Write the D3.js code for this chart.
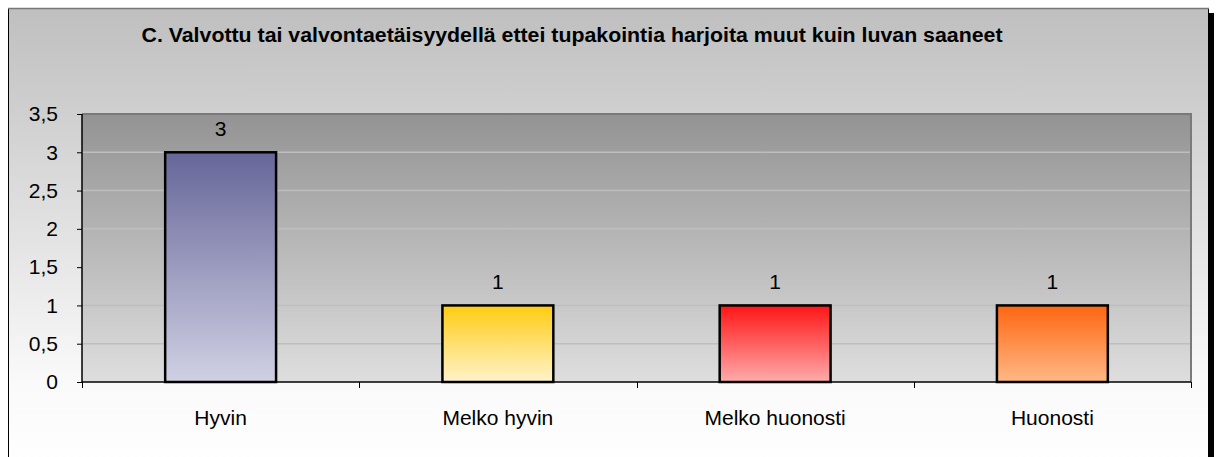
<!DOCTYPE html>
<meta charset="utf-8">
<head>
<style>
body { margin: 0; background: #fff; }
text { font-family: "Liberation Sans", Arial, sans-serif; fill: #000; }
</style>
</head>
<body>
<script src="https://cdnjs.cloudflare.com/ajax/libs/d3/7.8.5/d3.min.js"></script>
<svg id="chart" width="1218" height="457"></svg>
<script>

var title = "C. Valvottu tai valvontaetäisyydellä ettei tupakointia harjoita muut kuin luvan saaneet";
var categories = ["Hyvin", "Melko hyvin", "Melko huonosti", "Huonosti"];
var values = [3, 1, 1, 1];
var yTicks = [0, 0.5, 1, 1.5, 2, 2.5, 3, 3.5];
// top / bottom colour of each bar's gradient
var topColors = ["#666699", "#ffcc11", "#ff1515", "#ff6611"];
var bottomColors = ["#d0d0e4", "#fff3cc", "#ffabab", "#ffb886"];

var svg = d3.select("#chart"),
    margin = {top: 114, right: 27, bottom: 75, left: 82},
    width = 1191 - margin.left,
    height = 382 - margin.top;

var defs = svg.append("defs");

var outerGrad = defs.append("linearGradient").attr("id", "outerGrad")
    .attr("x1", 0).attr("y1", 0).attr("x2", 0).attr("y2", 1);
outerGrad.append("stop").attr("offset", "0%").attr("stop-color", "#bfbfbf");
outerGrad.append("stop").attr("offset", "80%").attr("stop-color", "#fafafa");
outerGrad.append("stop").attr("offset", "100%").attr("stop-color", "#ffffff");

var plotGrad = defs.append("linearGradient").attr("id", "plotGrad")
    .attr("x1", 0).attr("y1", 0).attr("x2", 0).attr("y2", 1);
plotGrad.append("stop").attr("offset", "0%").attr("stop-color", "#939393");
plotGrad.append("stop").attr("offset", "100%").attr("stop-color", "#dedede");

topColors.forEach(function(c, i) {
  var gr = defs.append("linearGradient").attr("id", "barGrad" + i)
      .attr("x1", 0).attr("y1", 0).attr("x2", 0).attr("y2", 1);
  gr.append("stop").attr("offset", "0%").attr("stop-color", c);
  gr.append("stop").attr("offset", "100%").attr("stop-color", bottomColors[i]);
});

// chart frame with shadow
svg.append("rect")
    .attr("x", 1209).attr("y", 13).attr("width", 5).attr("height", 460)
    .attr("fill", "#000");
svg.append("rect")
    .attr("x", 8.5).attr("y", 8.5).attr("width", 1200).attr("height", 470)
    .attr("fill", "url(#outerGrad)")
    .attr("stroke", "#000").attr("stroke-width", 1);
svg.append("line")
    .attr("x1", 8).attr("x2", 1209).attr("y1", 8.5).attr("y2", 8.5)
    .attr("stroke", "#777").attr("stroke-width", 1.5);

svg.append("text")
    .attr("x", 572)
    .attr("y", 42)
    .attr("text-anchor", "middle")
    .style("font-weight", "bold")
    .style("font-size", "20px")
    .attr("textLength", 861)
    .attr("lengthAdjust", "spacingAndGlyphs")
    .text(title);

var g = svg.append("g").attr("transform", "translate(" + margin.left + "," + margin.top + ")");

var x = d3.scaleBand()
    .domain(categories)
    .range([0, width])
    .paddingInner(0.6)
    .paddingOuter(0.3);

var step = width / categories.length;

var y = d3.scaleLinear()
    .domain([0, 3.5])
    .range([height, 0]);

// plot area
g.append("rect")
    .attr("width", width).attr("height", height)
    .attr("fill", "url(#plotGrad)");

g.selectAll(".grid")
    .data(yTicks.slice(1, -1))
    .enter().append("line")
      .attr("class", "grid")
      .attr("x1", 0).attr("x2", width)
      .attr("y1", function(d) { return y(d); })
      .attr("y2", function(d) { return y(d); })
      .attr("stroke", "#bebebe").attr("stroke-width", 1.5);

g.append("path")
    .attr("d", "M0," + y(3.5) + "H" + width + "V" + height)
    .attr("fill", "none")
    .attr("stroke", "#7a7a7a").attr("stroke-width", 2);

g.selectAll(".bar")
    .data(values)
    .enter().append("rect")
      .attr("class", "bar")
      .attr("x", function(d, i) { return x(categories[i]); })
      .attr("y", function(d) { return y(d); })
      .attr("width", x.bandwidth())
      .attr("height", function(d) { return height - y(d); })
      .attr("fill", function(d, i) { return "url(#barGrad" + i + ")"; })
      .attr("stroke", "#000")
      .attr("stroke-width", 2.5);

g.selectAll(".value")
    .data(values)
    .enter().append("text")
      .attr("class", "value")
      .attr("x", function(d, i) { return x(categories[i]) + x.bandwidth() / 2; })
      .attr("y", function(d) { return y(d) - 16; })
      .attr("text-anchor", "middle")
      .style("font-size", "21px")
      .text(function(d) { return d; });

// axes
var yAxis = g.append("g")
    .call(d3.axisLeft(y).tickValues(yTicks).tickSize(5).tickPadding(19)
      .tickFormat(function(d) { return String(d).replace(".", ","); }));
yAxis.select(".domain").attr("stroke", "#000").attr("stroke-width", 1.5).attr("d", "M0,0V" + height);
yAxis.selectAll(".tick line").attr("stroke", "#000");
yAxis.selectAll("text")
    .style("font-size", "21px")
    .attr("font-family", null);

var xAxis = g.append("g")
    .attr("transform", "translate(0," + height + ")");
xAxis.append("line")
    .attr("x1", 0).attr("x2", width)
    .attr("stroke", "#000").attr("stroke-width", 1.5);
xAxis.selectAll(".xtick")
    .data(d3.range(categories.length + 1))
    .enter().append("line")
      .attr("class", "xtick")
      .attr("x1", function(i) { return Math.round(i * step) + 0.5; })
      .attr("x2", function(i) { return Math.round(i * step) + 0.5; })
      .attr("y1", 0).attr("y2", 6)
      .attr("stroke", "#000");
xAxis.selectAll(".xlabel")
    .data(categories)
    .enter().append("text")
      .attr("class", "xlabel")
      .attr("x", function(d) { return x(d) + x.bandwidth() / 2; })
      .attr("y", 43)
      .attr("text-anchor", "middle")
      .style("font-size", "21px")
      .text(function(d) { return d; });

</script>
</body>
</html>
